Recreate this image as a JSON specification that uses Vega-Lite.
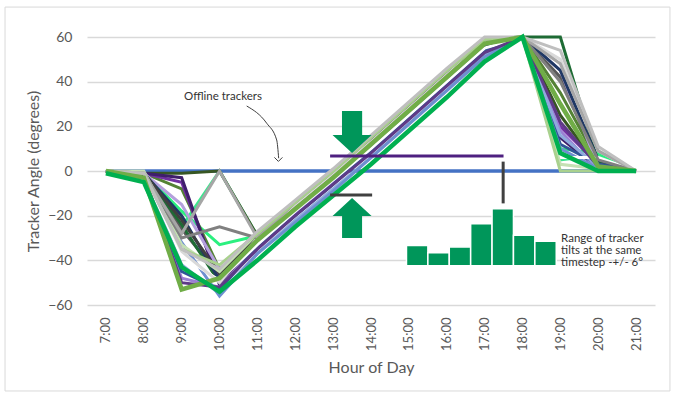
{
  "$schema": "https://vega.github.io/schema/vega-lite/v6.json",
  "width": 568,
  "height": 268,
  "autosize": {"type": "none"},
  "padding": {"left": 87, "top": 37, "right": 25, "bottom": 93},
  "background": "white",
  "config": {
    "view": {"stroke": null},
    "font": "Lato",
    "axisX": {"values": [7,8,9,10,11,12,13,14,15,16,17,18,19,20,21], "labelExpr": "datum.value + ':00'", "labelAngle": -90, "grid": false, "ticks": false, "domain": false, "labelFont": "Lato", "labelFontSize": 13, "labelColor": "#595959", "labelPadding": 12, "titleFont": "Lato", "titleFontSize": 16, "titleColor": "#595959", "titleFontWeight": "normal", "titlePadding": 9},
    "axisY": {"values": [-60,-40,-20,0,20,40,60], "grid": true, "gridColor": "#D9D9D9", "gridWidth": 1.3, "ticks": false, "domain": false, "labelFont": "Lato", "labelFontSize": 14, "labelColor": "#595959", "labelPadding": 15, "titleFont": "Lato", "titleFontSize": 16, "titleColor": "#595959", "titleFontWeight": "normal", "titlePadding": 6}
  },
  "datasets": {
    "trackers": [
      {"s":"s00","h":7,"a":0},{"s":"s00","h":8,"a":0},{"s":"s00","h":9,"a":0},{"s":"s00","h":10,"a":0},{"s":"s00","h":11,"a":0},{"s":"s00","h":12,"a":0},{"s":"s00","h":13,"a":0},{"s":"s00","h":14,"a":0},{"s":"s00","h":15,"a":0},{"s":"s00","h":16,"a":0},{"s":"s00","h":17,"a":0},{"s":"s00","h":18,"a":0},{"s":"s00","h":19,"a":0},{"s":"s00","h":20,"a":0},{"s":"s00","h":21,"a":0},
      {"s":"s22","h":7,"a":0},{"s":"s22","h":8,"a":-1},{"s":"s22","h":9,"a":-25},{"s":"s22","h":10,"a":0},{"s":"s22","h":11,"a":-29},{"s":"s22","h":12,"a":-14},{"s":"s22","h":13,"a":0},{"s":"s22","h":14,"a":15},{"s":"s22","h":15,"a":30},{"s":"s22","h":16,"a":45},{"s":"s22","h":17,"a":59},{"s":"s22","h":18,"a":60},{"s":"s22","h":19,"a":5},{"s":"s22","h":20,"a":7},{"s":"s22","h":21,"a":0},
      {"s":"s21","h":7,"a":0},{"s":"s21","h":8,"a":-1},{"s":"s21","h":9,"a":-18},{"s":"s21","h":10,"a":-33},{"s":"s21","h":11,"a":-29},{"s":"s21","h":12,"a":-14},{"s":"s21","h":13,"a":0},{"s":"s21","h":14,"a":15},{"s":"s21","h":15,"a":30},{"s":"s21","h":16,"a":45},{"s":"s21","h":17,"a":59},{"s":"s21","h":18,"a":60},{"s":"s21","h":19,"a":10},{"s":"s21","h":20,"a":8},{"s":"s21","h":21,"a":0},
      {"s":"s09","h":7,"a":0},{"s":"s09","h":8,"a":-1},{"s":"s09","h":9,"a":-1},{"s":"s09","h":10,"a":0},{"s":"s09","h":11,"a":-29},{"s":"s09","h":12,"a":-15},{"s":"s09","h":13,"a":-1},{"s":"s09","h":14,"a":14},{"s":"s09","h":15,"a":29},{"s":"s09","h":16,"a":44},{"s":"s09","h":17,"a":58},{"s":"s09","h":18,"a":60},{"s":"s09","h":19,"a":25},{"s":"s09","h":20,"a":2},{"s":"s09","h":21,"a":0},
      {"s":"s04","h":7,"a":0},{"s":"s04","h":8,"a":-1},{"s":"s04","h":9,"a":-26},{"s":"s04","h":10,"a":-47},{"s":"s04","h":11,"a":-29},{"s":"s04","h":12,"a":-15},{"s":"s04","h":13,"a":-1},{"s":"s04","h":14,"a":14},{"s":"s04","h":15,"a":29},{"s":"s04","h":16,"a":44},{"s":"s04","h":17,"a":58},{"s":"s04","h":18,"a":60},{"s":"s04","h":19,"a":42},{"s":"s04","h":20,"a":3},{"s":"s04","h":21,"a":0},
      {"s":"s08","h":7,"a":0},{"s":"s08","h":8,"a":-1},{"s":"s08","h":9,"a":-8},{"s":"s08","h":10,"a":-44},{"s":"s08","h":11,"a":-30},{"s":"s08","h":12,"a":-15},{"s":"s08","h":13,"a":-1},{"s":"s08","h":14,"a":13},{"s":"s08","h":15,"a":28},{"s":"s08","h":16,"a":43},{"s":"s08","h":17,"a":58},{"s":"s08","h":18,"a":60},{"s":"s08","h":19,"a":35},{"s":"s08","h":20,"a":4},{"s":"s08","h":21,"a":0},
      {"s":"s10","h":7,"a":0},{"s":"s10","h":8,"a":-1},{"s":"s10","h":9,"a":-24},{"s":"s10","h":10,"a":-50},{"s":"s10","h":11,"a":-31},{"s":"s10","h":12,"a":-17},{"s":"s10","h":13,"a":-3},{"s":"s10","h":14,"a":12},{"s":"s10","h":15,"a":27},{"s":"s10","h":16,"a":42},{"s":"s10","h":17,"a":57},{"s":"s10","h":18,"a":60},{"s":"s10","h":19,"a":60},{"s":"s10","h":20,"a":4},{"s":"s10","h":21,"a":0},
      {"s":"s11","h":7,"a":0},{"s":"s11","h":8,"a":-1},{"s":"s11","h":9,"a":-5},{"s":"s11","h":10,"a":-50},{"s":"s11","h":11,"a":-32},{"s":"s11","h":12,"a":-18},{"s":"s11","h":13,"a":-4},{"s":"s11","h":14,"a":11},{"s":"s11","h":15,"a":26},{"s":"s11","h":16,"a":41},{"s":"s11","h":17,"a":56},{"s":"s11","h":18,"a":60},{"s":"s11","h":19,"a":20},{"s":"s11","h":20,"a":3},{"s":"s11","h":21,"a":0},
      {"s":"s12","h":7,"a":0},{"s":"s12","h":8,"a":-1},{"s":"s12","h":9,"a":-3},{"s":"s12","h":10,"a":-51},{"s":"s12","h":11,"a":-33},{"s":"s12","h":12,"a":-18},{"s":"s12","h":13,"a":-4},{"s":"s12","h":14,"a":10},{"s":"s12","h":15,"a":25},{"s":"s12","h":16,"a":40},{"s":"s12","h":17,"a":55},{"s":"s12","h":18,"a":60},{"s":"s12","h":19,"a":15},{"s":"s12","h":20,"a":1},{"s":"s12","h":21,"a":0},
      {"s":"s13","h":7,"a":0},{"s":"s13","h":8,"a":-1},{"s":"s13","h":9,"a":-15},{"s":"s13","h":10,"a":-44},{"s":"s13","h":11,"a":-31},{"s":"s13","h":12,"a":-17},{"s":"s13","h":13,"a":-3},{"s":"s13","h":14,"a":12},{"s":"s13","h":15,"a":27},{"s":"s13","h":16,"a":42},{"s":"s13","h":17,"a":57},{"s":"s13","h":18,"a":60},{"s":"s13","h":19,"a":45},{"s":"s13","h":20,"a":2},{"s":"s13","h":21,"a":0},
      {"s":"s14","h":7,"a":0},{"s":"s14","h":8,"a":-2},{"s":"s14","h":9,"a":-48},{"s":"s14","h":10,"a":-52},{"s":"s14","h":11,"a":-34},{"s":"s14","h":12,"a":-19},{"s":"s14","h":13,"a":-5},{"s":"s14","h":14,"a":10},{"s":"s14","h":15,"a":25},{"s":"s14","h":16,"a":40},{"s":"s14","h":17,"a":55},{"s":"s14","h":18,"a":60},{"s":"s14","h":19,"a":18},{"s":"s14","h":20,"a":0},{"s":"s14","h":21,"a":0},
      {"s":"s15","h":7,"a":0},{"s":"s15","h":8,"a":-1},{"s":"s15","h":9,"a":-20},{"s":"s15","h":10,"a":-49},{"s":"s15","h":11,"a":-32},{"s":"s15","h":12,"a":-17},{"s":"s15","h":13,"a":-3},{"s":"s15","h":14,"a":11},{"s":"s15","h":15,"a":26},{"s":"s15","h":16,"a":41},{"s":"s15","h":17,"a":56},{"s":"s15","h":18,"a":60},{"s":"s15","h":19,"a":45},{"s":"s15","h":20,"a":5},{"s":"s15","h":21,"a":0},
      {"s":"s16","h":7,"a":0},{"s":"s16","h":8,"a":-2},{"s":"s16","h":9,"a":-45},{"s":"s16","h":10,"a":-53},{"s":"s16","h":11,"a":-34},{"s":"s16","h":12,"a":-20},{"s":"s16","h":13,"a":-6},{"s":"s16","h":14,"a":9},{"s":"s16","h":15,"a":24},{"s":"s16","h":16,"a":39},{"s":"s16","h":17,"a":54},{"s":"s16","h":18,"a":60},{"s":"s16","h":19,"a":12},{"s":"s16","h":20,"a":3},{"s":"s16","h":21,"a":0},
      {"s":"s17","h":7,"a":0},{"s":"s17","h":8,"a":-2},{"s":"s17","h":9,"a":-42},{"s":"s17","h":10,"a":-55},{"s":"s17","h":11,"a":-37},{"s":"s17","h":12,"a":-22},{"s":"s17","h":13,"a":-8},{"s":"s17","h":14,"a":6},{"s":"s17","h":15,"a":21},{"s":"s17","h":16,"a":36},{"s":"s17","h":17,"a":52},{"s":"s17","h":18,"a":60},{"s":"s17","h":19,"a":16},{"s":"s17","h":20,"a":2},{"s":"s17","h":21,"a":0},
      {"s":"s18","h":7,"a":0},{"s":"s18","h":8,"a":-2},{"s":"s18","h":9,"a":-32},{"s":"s18","h":10,"a":-56},{"s":"s18","h":11,"a":-37},{"s":"s18","h":12,"a":-23},{"s":"s18","h":13,"a":-9},{"s":"s18","h":14,"a":6},{"s":"s18","h":15,"a":21},{"s":"s18","h":16,"a":36},{"s":"s18","h":17,"a":51},{"s":"s18","h":18,"a":60},{"s":"s18","h":19,"a":10},{"s":"s18","h":20,"a":1},{"s":"s18","h":21,"a":0},
      {"s":"s19","h":7,"a":0},{"s":"s19","h":8,"a":-1},{"s":"s19","h":9,"a":-38},{"s":"s19","h":10,"a":-49},{"s":"s19","h":11,"a":-33},{"s":"s19","h":12,"a":-18},{"s":"s19","h":13,"a":-4},{"s":"s19","h":14,"a":10},{"s":"s19","h":15,"a":25},{"s":"s19","h":16,"a":40},{"s":"s19","h":17,"a":55},{"s":"s19","h":18,"a":60},{"s":"s19","h":19,"a":6},{"s":"s19","h":20,"a":6},{"s":"s19","h":21,"a":0},
      {"s":"s23","h":7,"a":0},{"s":"s23","h":8,"a":-1},{"s":"s23","h":9,"a":-22},{"s":"s23","h":10,"a":-46},{"s":"s23","h":11,"a":-30},{"s":"s23","h":12,"a":-16},{"s":"s23","h":13,"a":-2},{"s":"s23","h":14,"a":13},{"s":"s23","h":15,"a":28},{"s":"s23","h":16,"a":43},{"s":"s23","h":17,"a":57},{"s":"s23","h":18,"a":60},{"s":"s23","h":19,"a":30},{"s":"s23","h":20,"a":2},{"s":"s23","h":21,"a":0},
      {"s":"s24","h":7,"a":0},{"s":"s24","h":8,"a":-2},{"s":"s24","h":9,"a":-50},{"s":"s24","h":10,"a":-52},{"s":"s24","h":11,"a":-35},{"s":"s24","h":12,"a":-20},{"s":"s24","h":13,"a":-6},{"s":"s24","h":14,"a":8},{"s":"s24","h":15,"a":23},{"s":"s24","h":16,"a":38},{"s":"s24","h":17,"a":53},{"s":"s24","h":18,"a":60},{"s":"s24","h":19,"a":22},{"s":"s24","h":20,"a":2},{"s":"s24","h":21,"a":0},
      {"s":"s06","h":7,"a":0},{"s":"s06","h":8,"a":0},{"s":"s06","h":9,"a":-33},{"s":"s06","h":10,"a":-45},{"s":"s06","h":11,"a":-28},{"s":"s06","h":12,"a":-14},{"s":"s06","h":13,"a":0},{"s":"s06","h":14,"a":15},{"s":"s06","h":15,"a":30},{"s":"s06","h":16,"a":45},{"s":"s06","h":17,"a":59},{"s":"s06","h":18,"a":60},{"s":"s06","h":19,"a":3},{"s":"s06","h":20,"a":1},{"s":"s06","h":21,"a":0},
      {"s":"s20","h":7,"a":0},{"s":"s20","h":8,"a":-1},{"s":"s20","h":9,"a":-36},{"s":"s20","h":10,"a":-50},{"s":"s20","h":11,"a":-30},{"s":"s20","h":12,"a":-15},{"s":"s20","h":13,"a":-1},{"s":"s20","h":14,"a":13},{"s":"s20","h":15,"a":28},{"s":"s20","h":16,"a":43},{"s":"s20","h":17,"a":58},{"s":"s20","h":18,"a":60},{"s":"s20","h":19,"a":50},{"s":"s20","h":20,"a":9},{"s":"s20","h":21,"a":0},
      {"s":"s03","h":7,"a":0},{"s":"s03","h":8,"a":-1},{"s":"s03","h":9,"a":-30},{"s":"s03","h":10,"a":-25},{"s":"s03","h":11,"a":-30},{"s":"s03","h":12,"a":-14},{"s":"s03","h":13,"a":0},{"s":"s03","h":14,"a":15},{"s":"s03","h":15,"a":30},{"s":"s03","h":16,"a":45},{"s":"s03","h":17,"a":59},{"s":"s03","h":18,"a":60},{"s":"s03","h":19,"a":40},{"s":"s03","h":20,"a":5},{"s":"s03","h":21,"a":0},
      {"s":"s02","h":7,"a":0},{"s":"s02","h":8,"a":-1},{"s":"s02","h":9,"a":-28},{"s":"s02","h":10,"a":0},{"s":"s02","h":11,"a":-30},{"s":"s02","h":12,"a":-14},{"s":"s02","h":13,"a":0},{"s":"s02","h":14,"a":15},{"s":"s02","h":15,"a":30},{"s":"s02","h":16,"a":45},{"s":"s02","h":17,"a":59},{"s":"s02","h":18,"a":60},{"s":"s02","h":19,"a":48},{"s":"s02","h":20,"a":9},{"s":"s02","h":21,"a":0},
      {"s":"s05","h":7,"a":0},{"s":"s05","h":8,"a":-1},{"s":"s05","h":9,"a":-35},{"s":"s05","h":10,"a":-42},{"s":"s05","h":11,"a":-28},{"s":"s05","h":12,"a":-14},{"s":"s05","h":13,"a":0},{"s":"s05","h":14,"a":15},{"s":"s05","h":15,"a":30},{"s":"s05","h":16,"a":45},{"s":"s05","h":17,"a":59},{"s":"s05","h":18,"a":60},{"s":"s05","h":19,"a":0},{"s":"s05","h":20,"a":0},{"s":"s05","h":21,"a":0},
      {"s":"s01","h":7,"a":0},{"s":"s01","h":8,"a":-1},{"s":"s01","h":9,"a":-35},{"s":"s01","h":10,"a":-44},{"s":"s01","h":11,"a":-27},{"s":"s01","h":12,"a":-13},{"s":"s01","h":13,"a":1},{"s":"s01","h":14,"a":16},{"s":"s01","h":15,"a":31},{"s":"s01","h":16,"a":46},{"s":"s01","h":17,"a":60},{"s":"s01","h":18,"a":60},{"s":"s01","h":19,"a":54},{"s":"s01","h":20,"a":11},{"s":"s01","h":21,"a":0},
      {"s":"s07","h":7,"a":0},{"s":"s07","h":8,"a":-3},{"s":"s07","h":9,"a":-53},{"s":"s07","h":10,"a":-48},{"s":"s07","h":11,"a":-31},{"s":"s07","h":12,"a":-17},{"s":"s07","h":13,"a":-3},{"s":"s07","h":14,"a":12},{"s":"s07","h":15,"a":27},{"s":"s07","h":16,"a":42},{"s":"s07","h":17,"a":57},{"s":"s07","h":18,"a":60},{"s":"s07","h":19,"a":30},{"s":"s07","h":20,"a":2},{"s":"s07","h":21,"a":0},
      {"s":"s25","h":7,"a":-1},{"s":"s25","h":8,"a":-5},{"s":"s25","h":9,"a":-43},{"s":"s25","h":10,"a":-54},{"s":"s25","h":11,"a":-40},{"s":"s25","h":12,"a":-25},{"s":"s25","h":13,"a":-11},{"s":"s25","h":14,"a":3},{"s":"s25","h":15,"a":18},{"s":"s25","h":16,"a":33},{"s":"s25","h":17,"a":49},{"s":"s25","h":18,"a":60},{"s":"s25","h":19,"a":8},{"s":"s25","h":20,"a":0},{"s":"s25","h":21,"a":0}
    ],
    "hist": [
      {"x1":14.937,"x2":15.502,"top":-33.4,"base":-42.4},
      {"x1":15.502,"x2":16.067,"top":-36.6,"base":-42.4},
      {"x1":16.067,"x2":16.632,"top":-34.0,"base":-42.4},
      {"x1":16.632,"x2":17.197,"top":-23.6,"base":-42.4},
      {"x1":17.197,"x2":17.762,"top":-16.9,"base":-42.4},
      {"x1":17.762,"x2":18.327,"top":-28.8,"base":-42.4},
      {"x1":18.327,"x2":18.892,"top":-31.5,"base":-42.4}
    ],
    "marks": [
      {"kind":"purple","x1":12.92,"x2":17.5,"y1":6.7,"y2":6.7},
      {"kind":"gray","x1":12.92,"x2":14.03,"y1":-10.7,"y2":-10.7},
      {"kind":"gray","x1":17.49,"x2":17.49,"y1":4.2,"y2":-14.5}
    ],
    "curve": [
      {"h":10.717,"a":29.1},
      {"h":11.245,"a":21.4},
      {"h":11.509,"a":13.9},
      {"h":11.562,"a":5.7}
    ],
    "frame": [
      {"x1":4.335,"x2":21.895,"y1":73.4,"y2":-98.5}
    ]
  },
  "layer": [
    {
      "data": {"name": "frame"},
      "mark": {"type": "rect", "fill": null, "stroke": "#D9D9D9", "strokeWidth": 1, "clip": false},
      "encoding": {
        "x": {"field": "x1", "type": "quantitative", "scale": {"domain": [6.5, 21.5], "nice": false, "zero": false}, "title": "Hour of Day"},
        "x2": {"field": "x2"},
        "y": {"field": "y1", "type": "quantitative", "scale": {"domain": [-60, 60], "nice": false, "zero": false}, "title": "Tracker Angle (degrees)"},
        "y2": {"field": "y2"}
      }
    },
    {
      "data": {"name": "trackers"},
      "transform": [{"filter": "datum.s === 's00'"}],
      "mark": {"type": "line", "strokeWidth": 3.5},
      "encoding": {
        "x": {"field": "h", "type": "quantitative"},
        "y": {"field": "a", "type": "quantitative"},
        "color": {"field": "s", "type": "nominal", "legend": null, "scale": {"domain": ["s00","s01","s02","s03","s04","s05","s06","s07","s08","s09","s10","s11","s12","s13","s14","s15","s16","s17","s18","s19","s20","s21","s22","s23","s24","s25"], "range": ["#4472C4","#BFBFBF","#A6A6A6","#808080","#595959","#A9D18E","#C5E0B4","#70AD47","#548235","#375623","#1E6B34","#7030A0","#3F1F6B","#B4A0DC","#9B7FD4","#1F3864","#2F5597","#8FAADC","#6E8FD0","#FFFFFF","#D9D9D9","#2BF07F","#3EE58F","#404040","#5E3A87","#00B050"]}}
      }
    },
    {
      "data": {"name": "trackers"},
      "transform": [{"filter": "datum.s !== 's00' && datum.s !== 's07' && datum.s !== 's25'"}],
      "mark": {"type": "line", "strokeWidth": 3},
      "encoding": {
        "x": {"field": "h", "type": "quantitative"},
        "y": {"field": "a", "type": "quantitative"},
        "color": {"field": "s", "type": "nominal", "legend": null}
      }
    },
    {
      "data": {"name": "trackers"},
      "transform": [{"filter": "datum.s === 's07' || datum.s === 's25'"}],
      "mark": {"type": "line", "strokeWidth": 4.5},
      "encoding": {
        "x": {"field": "h", "type": "quantitative"},
        "y": {"field": "a", "type": "quantitative"},
        "color": {"field": "s", "type": "nominal", "legend": null}
      }
    },
    {
      "data": {"name": "marks"},
      "mark": {"type": "rule", "strokeWidth": 3},
      "encoding": {
        "x": {"field": "x1", "type": "quantitative"},
        "x2": {"field": "x2"},
        "y": {"field": "y1", "type": "quantitative"},
        "y2": {"field": "y2"},
        "stroke": {"field": "kind", "type": "nominal", "legend": null, "scale": {"domain": ["purple","gray"], "range": ["#4E2080","#404040"]}}
      }
    },
    {
      "data": {"name": "hist"},
      "mark": {"type": "rect", "fill": "#00965A", "stroke": "#FFFFFF", "strokeWidth": 1.5},
      "encoding": {
        "x": {"field": "x1", "type": "quantitative"},
        "x2": {"field": "x2"},
        "y": {"field": "top", "type": "quantitative"},
        "y2": {"field": "base"}
      }
    },
    {
      "data": {"values": [{"h": 13.5, "a": 17.46}]},
      "mark": {"type": "point", "filled": true, "fill": "#00965A", "stroke": null, "opacity": 1, "size": 1764, "shape": "M-0.48,-1L0.48,-1L0.48,0.14L0.93,0.14L0,1L-0.93,0.14L-0.48,0.14Z"},
      "encoding": {
        "x": {"field": "h", "type": "quantitative"},
        "y": {"field": "a", "type": "quantitative"}
      }
    },
    {
      "data": {"values": [{"h": 13.5, "a": -21.05}]},
      "mark": {"type": "point", "filled": true, "fill": "#00965A", "stroke": null, "opacity": 1, "size": 1600, "shape": "M0,-1L0.975,-0.1L0.5,-0.1L0.5,1L-0.5,1L-0.5,-0.1L-0.975,-0.1Z"},
      "encoding": {
        "x": {"field": "h", "type": "quantitative"},
        "y": {"field": "a", "type": "quantitative"}
      }
    },
    {
      "data": {"name": "curve"},
      "mark": {"type": "line", "interpolate": "monotone", "stroke": "#404040", "strokeWidth": 1},
      "encoding": {
        "x": {"field": "h", "type": "quantitative"},
        "y": {"field": "a", "type": "quantitative"}
      }
    },
    {
      "data": {"values": [{"h": 11.555, "a": 4.3}]},
      "mark": {"type": "point", "filled": false, "stroke": "#404040", "strokeWidth": 1, "opacity": 1, "size": 64, "shape": "M-1,-1L0,0L1,-1"},
      "encoding": {
        "x": {"field": "h", "type": "quantitative"},
        "y": {"field": "a", "type": "quantitative"}
      }
    },
    {
      "data": {"values": [{"h": 10.09, "a": 33.3, "label": "Offline trackers"}]},
      "mark": {"type": "text", "font": "Lato", "fontSize": 11.5, "color": "#333333", "align": "center", "baseline": "middle"},
      "encoding": {
        "x": {"field": "h", "type": "quantitative"},
        "y": {"field": "a", "type": "quantitative"},
        "text": {"field": "label"}
      }
    },
    {
      "data": {"values": [{"h": 19.02, "a": -30.4, "label": "Range of tracker\ntilts at the same\ntimestep -+/- 6°"}]},
      "mark": {"type": "text", "font": "Lato", "fontSize": 11.5, "color": "#333333", "align": "left", "baseline": "middle", "lineBreak": "\n", "lineHeight": 12},
      "encoding": {
        "x": {"field": "h", "type": "quantitative"},
        "y": {"field": "a", "type": "quantitative"},
        "text": {"field": "label"}
      }
    }
  ]
}
